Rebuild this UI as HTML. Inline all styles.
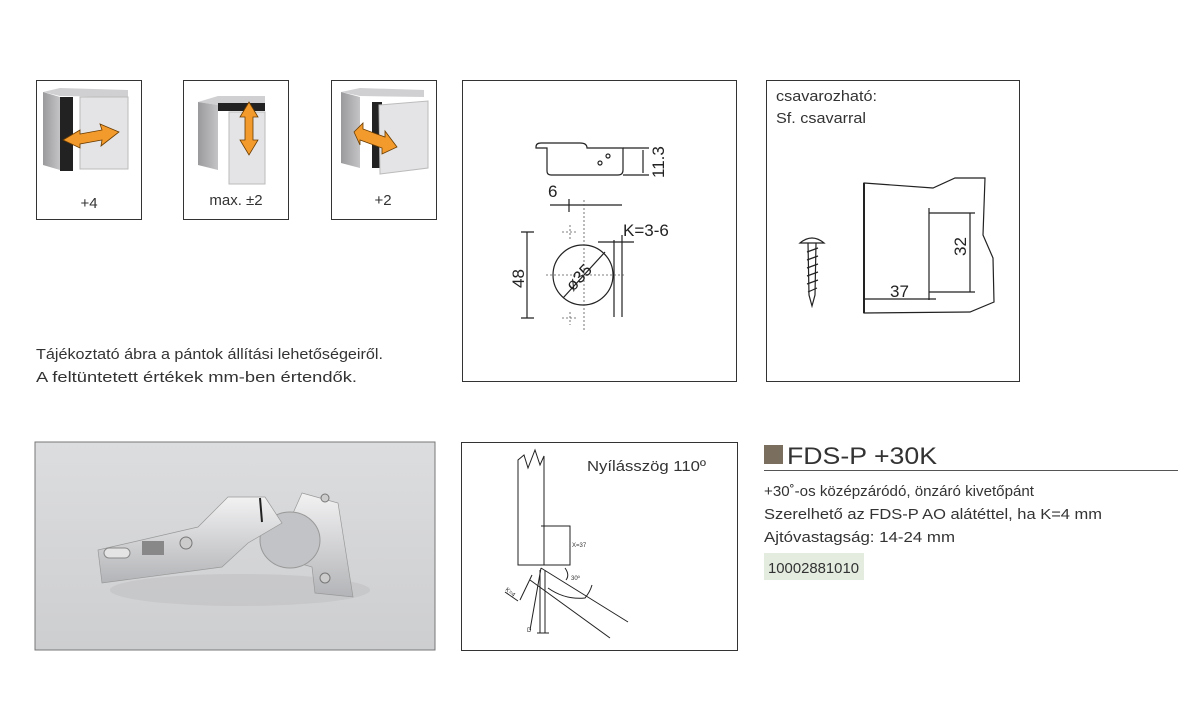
<!DOCTYPE html>
<html><head><meta charset="utf-8"><style>
body{margin:0;width:1200px;height:712px;background:#fff;overflow:hidden;font-family:"Liberation Sans",sans-serif;}
</style></head><body>
<svg width="1200" height="712" xmlns="http://www.w3.org/2000/svg" font-family="Liberation Sans, sans-serif">
<defs>
<linearGradient id="bg" x1="0" y1="0" x2="0" y2="1"><stop offset="0" stop-color="#dcdddf"/><stop offset="1" stop-color="#cdced0"/></linearGradient>
<linearGradient id="met" x1="0" y1="0" x2="0" y2="1"><stop offset="0" stop-color="#f2f2f3"/><stop offset="1" stop-color="#b3b4b7"/></linearGradient>
<linearGradient id="side" x1="0" y1="0" x2="1" y2="0"><stop offset="0" stop-color="#9a9a9c"/><stop offset="1" stop-color="#c4c4c6"/></linearGradient>
</defs>
<g fill="none" stroke="#333" stroke-width="1">
<rect x="36.5" y="80.5" width="105" height="139"/>
<rect x="183.5" y="80.5" width="105" height="139"/>
<rect x="331.5" y="80.5" width="105" height="139"/>
<rect x="462.5" y="80.5" width="274" height="301"/>
<rect x="766.5" y="80.5" width="253" height="301"/>
<rect x="461.5" y="442.5" width="276" height="208"/>
</g>
<g>
<polygon points="43,92 60,88 128,90 128,97 60,96" fill="#d0d0d2"/>
<polygon points="43,92 60,97 60,170 43,165" fill="url(#side)"/>
<rect x="60" y="97" width="13" height="74" fill="#222"/>
<rect x="80" y="97" width="48" height="72" fill="#e4e4e6" stroke="#bbb"/>
<polygon points="63,140 80,130 80,134 102,130 100,124 119,132 101,146 102,140 80,144 80,148" fill="#f39a2c" stroke="#6a3c00" stroke-width="0.8"/>
</g>
<g>
<polygon points="198,102 218,96 265,96 265,104 218,105" fill="#d0d0d2"/>
<polygon points="198,102 218,105 218,170 198,165" fill="url(#side)"/>
<rect x="218" y="103" width="47" height="8" fill="#222"/>
<rect x="229" y="112" width="36" height="72" fill="#e4e4e6" stroke="#bbb"/>
<polygon points="249,102 258,117 253,117 253,140 258,140 249,155 240,140 245,140 245,117 240,117" fill="#f39a2c" stroke="#6a3c00" stroke-width="0.8"/>
</g>
<g>
<polygon points="341,92 360,88 424,90 424,97 360,96" fill="#d0d0d2"/>
<polygon points="341,92 360,97 360,168 341,163" fill="url(#side)"/>
<rect x="372" y="102" width="10" height="66" fill="#222"/>
<polygon points="379,105 428,101 428,168 380,174" fill="#e4e4e6" stroke="#bbb"/>
<polygon points="354,132 363,123 363,129 385,137 385,131 397,147 382,154 382,148 360,140 360,145" fill="#f39a2c" stroke="#6a3c00" stroke-width="0.8"/>
</g>
<g font-size="15" fill="#333" text-anchor="middle">
<text x="89" y="208">+4</text><text x="236" y="205">max. ±2</text><text x="383" y="205">+2</text>
</g>
<text x="36" y="359" font-size="15" fill="#333" textLength="347" lengthAdjust="spacingAndGlyphs">Tájékoztató ábra a pántok állítási lehetőségeiről.</text>
<text x="36" y="382" font-size="15" fill="#333" textLength="321" lengthAdjust="spacingAndGlyphs">A feltüntetett értékek mm-ben értendők.</text>
<g stroke="#222" fill="none" stroke-width="1.2">
<path d="M536,147 Q536,143 541,143 L580,143 Q587,143 587,148 L623,148 L623,170 Q623,175 618,175 L551,175 Q547,175 547,171 L547,148 L536,148 Z"/>
<circle cx="600" cy="163" r="2"/><circle cx="608" cy="156" r="2"/>
<path d="M623,148 L649,148 M623,175 L649,175 M643,150 L643,173"/>
<path d="M550,205 L622,205 M569,199 L569,212"/>
<circle cx="583" cy="275" r="30"/>
<path d="M563,298 L605,252"/>
<path d="M527,232 L527,318 M521,232 L534,232 M521,318 L534,318"/>
<path d="M622,235 L622,317 M614,240 L614,317 M598,242 L634,242"/>
</g>
<g stroke="#555" stroke-dasharray="2,2" stroke-width="0.8">
<path d="M584,200 L584,330 M546,275 L625,275 M562,232 L578,232 M562,318 L578,318 M570,225 L570,240 M570,312 L570,325"/>
</g>
<g font-size="17" fill="#222">
<text x="548" y="197">6</text>
<text x="623" y="236">K=3-6</text>
<text transform="translate(664,178) rotate(-90)">11.3</text>
<text transform="translate(524,288) rotate(-90)">48</text>
<text transform="translate(573,292) rotate(-47)">ø35</text>
</g>
<text x="776" y="101" font-size="15" fill="#333" textLength="101" lengthAdjust="spacingAndGlyphs">csavarozható:</text>
<text x="776" y="123" font-size="15" fill="#333" textLength="90" lengthAdjust="spacingAndGlyphs">Sf. csavarral</text>
<g stroke="#222" fill="none" stroke-width="1.2">
<path d="M864,183 L933,188 L955,178 L985,178 L983,235 L993,258 L994,302 L970,312 L864,313 Z" fill="#fff"/>
<path d="M864,183 L864,313" stroke-width="2"/>
<path d="M929,208 L929,300 M929,213 L975,213 M929,292 L975,292 M970,213 L970,292"/>
<path d="M864,299 L936,299"/>
<path d="M800,243 Q812,233 824,243 Z M808,243 L816,243 L815,295 L812,306 L809,295 Z"/>
<path d="M807,252 L818,248 M807,260 L818,256 M807,268 L818,264 M807,276 L818,272 M807,284 L818,280 M808,292 L817,288"/>
</g>
<text x="890" y="297" font-size="17" fill="#222">37</text>
<text transform="translate(966,256) rotate(-90)" font-size="17" fill="#222">32</text>
<rect x="35" y="442" width="400" height="208" fill="url(#bg)" stroke="#777"/>
<ellipse cx="240" cy="590" rx="130" ry="16" fill="#bdbec0" opacity="0.5"/>
<polygon points="302,493 338,503 353,597 315,593 312,567 288,560 290,520" fill="url(#met)" stroke="#999" stroke-width="0.7"/>
<ellipse cx="290" cy="540" rx="30" ry="28" fill="#c2c3c6" stroke="#999"/>
<polygon points="98,550 198,527 228,497 265,497 282,523 248,543 222,567 102,583" fill="url(#met)" stroke="#999" stroke-width="0.7"/>
<rect x="142" y="541" width="22" height="14" fill="#888"/>
<circle cx="186" cy="543" r="6" fill="#ccc" stroke="#777"/>
<rect x="104" y="548" width="26" height="10" rx="5" fill="#e4e4e4" stroke="#888"/>
<path d="M260,498 L262,522" stroke="#222" stroke-width="2"/>
<circle cx="325" cy="498" r="4" fill="#ccc" stroke="#777"/><circle cx="325" cy="578" r="5" fill="#ccc" stroke="#777"/>
<text x="587" y="471" font-size="15" fill="#333" textLength="119" lengthAdjust="spacingAndGlyphs">Nyílásszög 110º</text>
<g stroke="#222" fill="none" stroke-width="1">
<path d="M518,565 L518,460 L524,455 L528,468 L535,450 L540,465 L544,456 L544,565 Z"/>
<path d="M541,526 L570,526 L570,565 L541,565 M570,528 L570,563"/>
<path d="M541,568 L530,630 M541,568 L628,622 M530,580 L610,638 M548,588 Q565,600 585,598 Q590,592 592,585"/>
<path d="M540,570 L540,633 M545,570 L545,633 M537,633 L549,633"/>
<path d="M532,575 L520,600 M505,592 L518,601"/>
<path d="M565,568 Q570,575 566,580"/>
</g>
<g font-size="6" fill="#333"><text x="572" y="547">X=37</text><text x="571" y="580">30º</text><text x="527" y="632">D</text><text transform="translate(505,590) rotate(40)">K=4</text></g>
<rect x="764" y="445" width="19" height="19" fill="#7a6e5f"/>
<text x="787" y="464" font-size="24" fill="#333" textLength="150" lengthAdjust="spacingAndGlyphs">FDS-P +30K</text>
<line x1="764" y1="470.5" x2="1178" y2="470.5" stroke="#555" stroke-width="1"/>
<g font-size="15" fill="#333">
<text x="764" y="496" textLength="270" lengthAdjust="spacingAndGlyphs">+30˚-os középzáródó, önzáró kivetőpánt</text>
<text x="764" y="519" textLength="338" lengthAdjust="spacingAndGlyphs">Szerelhető az FDS-P AO alátéttel, ha K=4 mm</text>
<text x="764" y="542" textLength="191" lengthAdjust="spacingAndGlyphs">Ajtóvastagság: 14-24 mm</text>
</g>
<rect x="764" y="553" width="100" height="27" fill="#e3ecdf"/>
<text x="768" y="573" font-size="15" fill="#333" textLength="91" lengthAdjust="spacingAndGlyphs">10002881010</text>
</svg>
</body></html>
